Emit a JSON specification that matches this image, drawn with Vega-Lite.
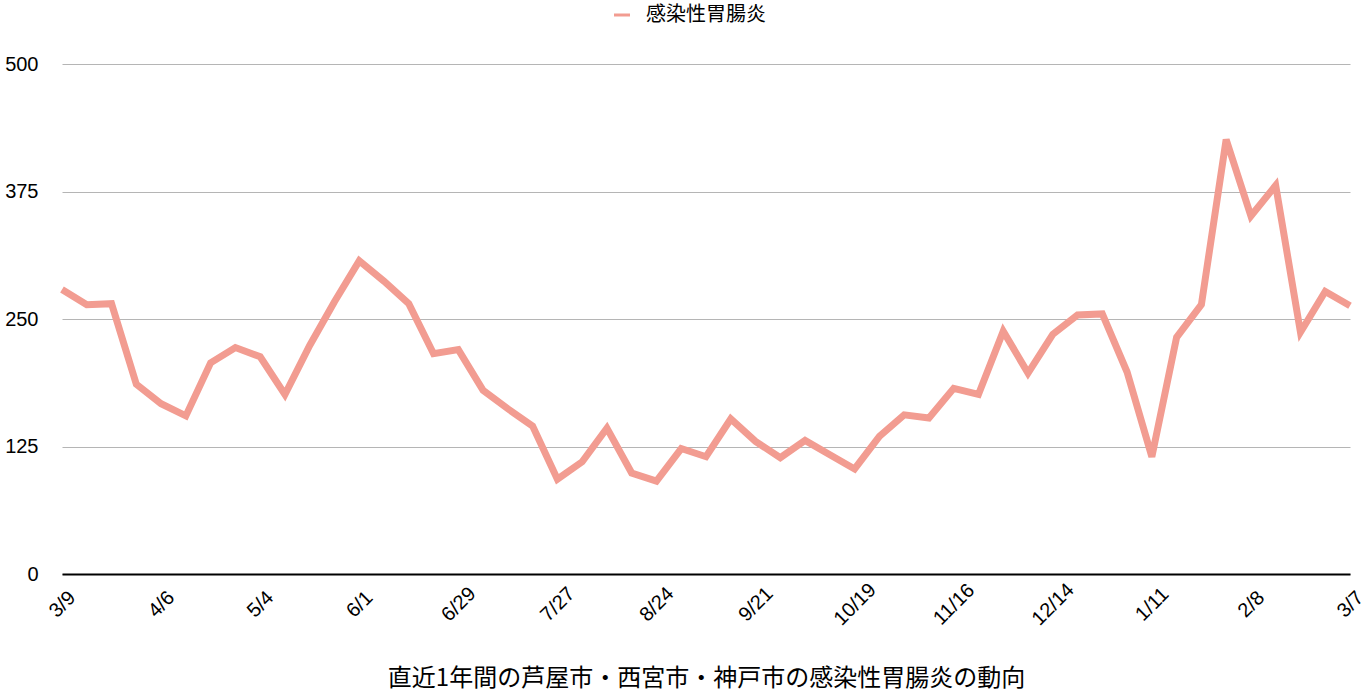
{
  "$schema": "https://vega.github.io/schema/vega-lite/v6.json",
  "width": 1288,
  "height": 510,
  "autosize": {"type": "none"},
  "padding": {"left": 62, "top": 64, "right": 20, "bottom": 124},
  "background": "white",
  "data": {
    "values": [
      {"date": "3/9", "value": 279, "series": "感染性胃腸炎"},
      {"date": "3/16", "value": 264, "series": "感染性胃腸炎"},
      {"date": "3/23", "value": 265, "series": "感染性胃腸炎"},
      {"date": "3/30", "value": 186, "series": "感染性胃腸炎"},
      {"date": "4/6", "value": 167, "series": "感染性胃腸炎"},
      {"date": "4/13", "value": 155, "series": "感染性胃腸炎"},
      {"date": "4/20", "value": 207, "series": "感染性胃腸炎"},
      {"date": "4/27", "value": 222, "series": "感染性胃腸炎"},
      {"date": "5/4", "value": 213, "series": "感染性胃腸炎"},
      {"date": "5/11", "value": 176, "series": "感染性胃腸炎"},
      {"date": "5/18", "value": 224, "series": "感染性胃腸炎"},
      {"date": "5/25", "value": 267, "series": "感染性胃腸炎"},
      {"date": "6/1", "value": 307, "series": "感染性胃腸炎"},
      {"date": "6/8", "value": 287, "series": "感染性胃腸炎"},
      {"date": "6/15", "value": 265, "series": "感染性胃腸炎"},
      {"date": "6/22", "value": 216, "series": "感染性胃腸炎"},
      {"date": "6/29", "value": 220, "series": "感染性胃腸炎"},
      {"date": "7/6", "value": 180, "series": "感染性胃腸炎"},
      {"date": "7/13", "value": 162, "series": "感染性胃腸炎"},
      {"date": "7/20", "value": 145, "series": "感染性胃腸炎"},
      {"date": "7/27", "value": 93, "series": "感染性胃腸炎"},
      {"date": "8/3", "value": 110, "series": "感染性胃腸炎"},
      {"date": "8/10", "value": 143, "series": "感染性胃腸炎"},
      {"date": "8/17", "value": 99, "series": "感染性胃腸炎"},
      {"date": "8/24", "value": 91, "series": "感染性胃腸炎"},
      {"date": "8/31", "value": 123, "series": "感染性胃腸炎"},
      {"date": "9/7", "value": 115, "series": "感染性胃腸炎"},
      {"date": "9/14", "value": 152, "series": "感染性胃腸炎"},
      {"date": "9/21", "value": 130, "series": "感染性胃腸炎"},
      {"date": "9/28", "value": 114, "series": "感染性胃腸炎"},
      {"date": "10/5", "value": 131, "series": "感染性胃腸炎"},
      {"date": "10/12", "value": 117, "series": "感染性胃腸炎"},
      {"date": "10/19", "value": 103, "series": "感染性胃腸炎"},
      {"date": "10/26", "value": 135, "series": "感染性胃腸炎"},
      {"date": "11/2", "value": 156, "series": "感染性胃腸炎"},
      {"date": "11/9", "value": 153, "series": "感染性胃腸炎"},
      {"date": "11/16", "value": 182, "series": "感染性胃腸炎"},
      {"date": "11/23", "value": 176, "series": "感染性胃腸炎"},
      {"date": "11/30", "value": 238, "series": "感染性胃腸炎"},
      {"date": "12/7", "value": 197, "series": "感染性胃腸炎"},
      {"date": "12/14", "value": 235, "series": "感染性胃腸炎"},
      {"date": "12/21", "value": 254, "series": "感染性胃腸炎"},
      {"date": "12/28", "value": 255, "series": "感染性胃腸炎"},
      {"date": "1/4", "value": 198, "series": "感染性胃腸炎"},
      {"date": "1/11", "value": 115, "series": "感染性胃腸炎"},
      {"date": "1/18", "value": 232, "series": "感染性胃腸炎"},
      {"date": "1/25", "value": 264, "series": "感染性胃腸炎"},
      {"date": "2/1", "value": 426, "series": "感染性胃腸炎"},
      {"date": "2/8", "value": 351, "series": "感染性胃腸炎"},
      {"date": "2/15", "value": 381, "series": "感染性胃腸炎"},
      {"date": "2/22", "value": 237, "series": "感染性胃腸炎"},
      {"date": "2/29", "value": 277, "series": "感染性胃腸炎"},
      {"date": "3/7", "value": 263, "series": "感染性胃腸炎"}
    ]
  },
  "mark": {"type": "line", "strokeWidth": 7, "strokeJoin": "miter", "strokeCap": "butt", "clip": false},
  "encoding": {
    "x": {
      "field": "date",
      "type": "ordinal",
      "sort": null,
      "scale": {"type": "point", "padding": 0},
      "axis": {
        "values": ["3/9", "4/6", "5/4", "6/1", "6/29", "7/27", "8/24", "9/21", "10/19", "11/16", "12/14", "1/11", "2/8", "3/7"],
        "title": "直近1年間の芦屋市・西宮市・神戸市の感染性胃腸炎の動向",
        "titleFont": "Noto Sans CJK JP",
        "titleFontSize": 24,
        "titleFontWeight": "normal",
        "titleColor": "#000000",
        "titlePadding": 38,
        "titleLimit": 0,
        "labelAngle": -45,
        "labelAlign": "center",
        "labelBaseline": "middle",
        "labelPadding": 30,
        "labelFontSize": 20,
        "labelFont": "Liberation Sans",
        "labelColor": "#000000",
        "labelOverlap": false,
        "ticks": false,
        "grid": false,
        "domainColor": "#000000",
        "domainWidth": 2
      }
    },
    "y": {
      "field": "value",
      "type": "quantitative",
      "scale": {"domain": [0, 500], "nice": false},
      "axis": {
        "values": [0, 125, 250, 375, 500],
        "title": null,
        "domain": false,
        "ticks": false,
        "grid": true,
        "gridColor": "#b5b5b5",
        "gridWidth": 1,
        "labelPadding": 24,
        "labelFontSize": 20,
        "labelFont": "Liberation Sans",
        "labelColor": "#000000"
      }
    },
    "color": {
      "field": "series",
      "type": "nominal",
      "scale": {"range": ["#F29C91"]},
      "legend": {
        "title": null,
        "orient": "none",
        "legendX": 550,
        "legendY": -59,
        "symbolType": "stroke",
        "symbolSize": 256,
        "symbolStrokeWidth": 3,
        "labelOffset": 14,
        "labelFontSize": 20,
        "labelLimit": 0,
        "labelFont": "Noto Sans CJK JP",
        "labelColor": "#000000"
      }
    }
  },
  "config": {
    "view": {"stroke": null}
  }
}
